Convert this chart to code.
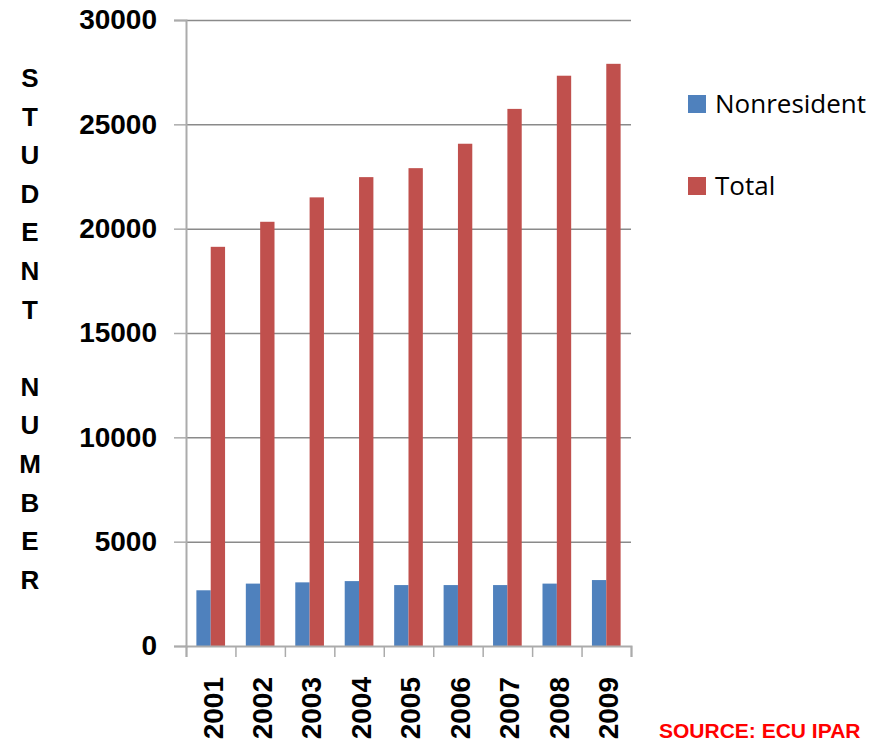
<!DOCTYPE html>
<html lang="en">
  <head>
    <meta charset="UTF-8" />
    <title>Student Number</title>
    <script src="https://cdn.jsdelivr.net/npm/d3@7"></script>
    <style>
      html,
      body {
        margin: 0;
        padding: 0;
        background: #fff;
      }
    </style>
  </head>
  <body>
    <script>
      // data
      const years = ['2001', '2002', '2003', '2004', '2005', '2006', '2007', '2008', '2009'];
      const nonresident = [2670, 2990, 3050, 3110, 2920, 2920, 2920, 2990, 3160];
      const total = [19130, 20330, 21500, 22470, 22900, 24070, 25740, 27330, 27900];
      const seriesNames = ['Nonresident', 'Total'];
      const seriesColors = ['#4F81BD', '#C0504D'];
      const yTicks = [0, 5000, 10000, 15000, 20000, 25000, 30000];
      const yTitle = 'STUDENT NUMBER';
      const source = 'SOURCE: ECU IPAR';

      const width = 889,
        height = 743;
      const plot = { left: 186, right: 631, top: 20, bottom: 646 };

      const svg = d3
        .select('body')
        .append('svg')
        .attr('width', width)
        .attr('height', height);

      const x = d3
        .scaleBand()
        .domain(years)
        .range([plot.left, plot.right])
        .paddingInner(0.42)
        .paddingOuter(0.21);

      const xSub = d3
        .scaleBand()
        .domain(seriesNames)
        .range([0, x.bandwidth()]);

      const xEdge = d3
        .scaleLinear()
        .domain([0, years.length])
        .range([plot.left, plot.right]);

      const y = d3
        .scaleLinear()
        .domain([0, 30000])
        .range([plot.bottom, plot.top]);

      // gridlines
      svg
        .append('g')
        .attr('transform', `translate(${plot.left},0)`)
        .call(
          d3
            .axisLeft(y)
            .tickValues(yTicks.slice(1))
            .tickSize(-(plot.right - plot.left))
            .tickFormat(''),
        )
        .call(g => g.select('.domain').remove())
        .call(g => g.selectAll('line').attr('stroke', '#8a8a8a').attr('stroke-width', 1.5));

      // y axis
      svg
        .append('g')
        .attr('transform', `translate(${plot.left},0)`)
        .call(
          d3
            .axisLeft(y)
            .tickValues(yTicks)
            .tickSize(12)
            .tickPadding(17)
            .tickFormat(d3.format('d')),
        )
        .call(g => g.select('.domain').attr('stroke', '#ababab').attr('stroke-width', 2))
        .call(g => g.selectAll('line').attr('stroke', '#ababab').attr('stroke-width', 1.5))
        .call(g =>
          g
            .selectAll('text')
            .attr('fill', '#000')
            .style('font-family', '"Liberation Sans", Arial, sans-serif')
            .style('font-weight', 'bold')
            .style('font-size', '28px'),
        );

      // bars
      const groups = svg
        .append('g')
        .selectAll('g')
        .data(years)
        .join('g')
        .attr('transform', d => `translate(${x(d)},0)`);

      groups
        .selectAll('rect')
        .data((d, i) => [
          { key: 'Nonresident', value: nonresident[i], c: seriesColors[0] },
          { key: 'Total', value: total[i], c: seriesColors[1] },
        ])
        .join('rect')
        .attr('x', d => xSub(d.key))
        .attr('width', xSub.bandwidth())
        .attr('y', d => y(d.value))
        .attr('height', d => y(0) - y(d.value))
        .attr('fill', d => d.c);

      // x axis (ticks at category edges)
      svg
        .append('g')
        .attr('transform', `translate(0,${plot.bottom})`)
        .call(
          d3
            .axisBottom(xEdge)
            .tickValues(d3.range(years.length + 1))
            .tickSize(11)
            .tickFormat(''),
        )
        .call(g => g.select('.domain').attr('stroke', '#ababab').attr('stroke-width', 2))
        .call(g => g.selectAll('line').attr('stroke', '#ababab').attr('stroke-width', 1.5));

      // rotated year labels
      svg
        .append('g')
        .selectAll('text')
        .data(years)
        .join('text')
        .attr('transform', d => `translate(${x(d) + x.bandwidth() / 2 + 2},677) rotate(-90)`)
        .attr('text-anchor', 'end')
        .attr('dy', '0.35em')
        .style('font-family', '"Liberation Sans", Arial, sans-serif')
        .style('font-weight', 'bold')
        .style('font-size', '28px')
        .text(d => d);

      // stacked y title
      svg
        .append('g')
        .selectAll('text')
        .data(yTitle.split(''))
        .join('text')
        .attr('x', 30)
        .attr('y', (d, i) => 87 + i * 38.6)
        .attr('text-anchor', 'middle')
        .style('font-family', '"Liberation Sans", Arial, sans-serif')
        .style('font-weight', 'bold')
        .style('font-size', '26px')
        .text(d => d);

      // legend
      const legend = svg
        .append('g')
        .selectAll('g')
        .data(seriesNames)
        .join('g')
        .attr('transform', (d, i) => `translate(688,${95 + i * 82})`);

      legend
        .append('rect')
        .attr('width', 18)
        .attr('height', 18)
        .attr('fill', (d, i) => seriesColors[i]);

      legend
        .append('text')
        .attr('x', 27)
        .attr('y', 18)
        .style('font-family', '"Open Sans", sans-serif')
        .style('font-size', '26px')
        .attr('fill', '#000')
        .text(d => d);

      // source note
      svg
        .append('text')
        .attr('x', 659)
        .attr('y', 738)
        .attr('fill', '#ff0000')
        .style('font-family', '"Liberation Sans", Arial, sans-serif')
        .style('font-weight', 'bold')
        .style('font-size', '21px')
        .text(source);
    </script>
  </body>
</html>
